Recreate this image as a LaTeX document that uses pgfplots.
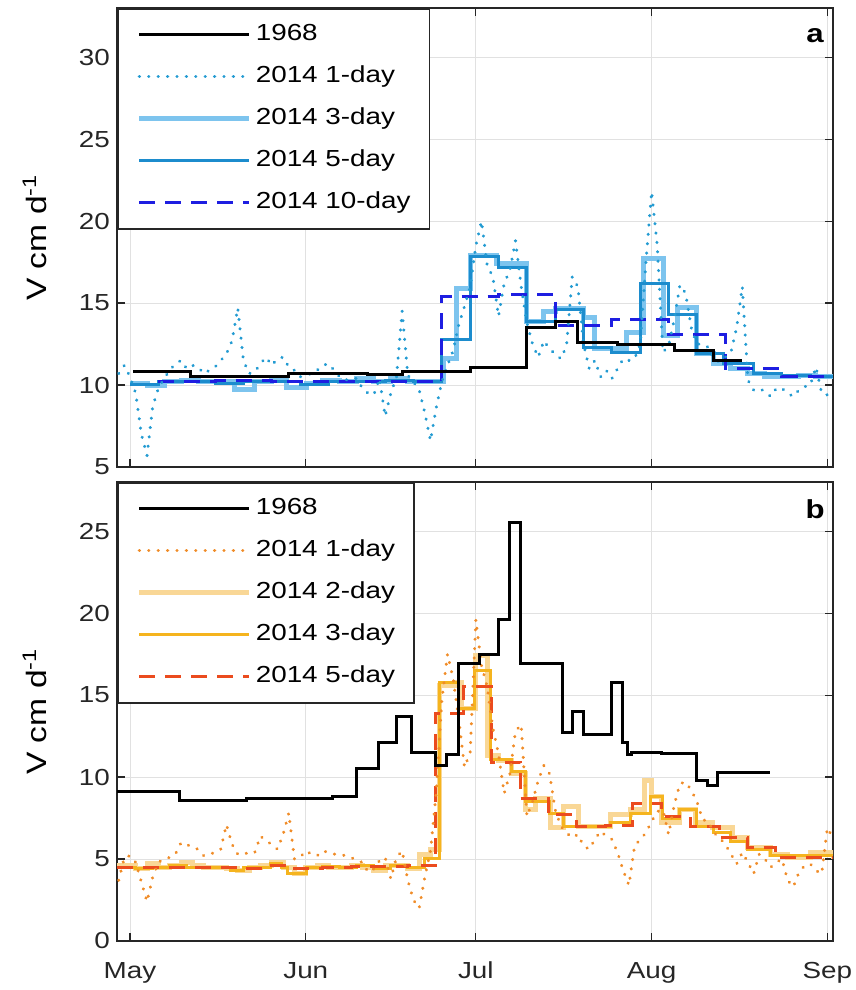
\documentclass[border=0pt]{standalone}
\usepackage{fontspec}
\setmainfont{Liberation Sans}[FakeStretch=1.2]
\usepackage{pgfplots}
\pgfplotsset{compat=1.18}
\definecolor{aone}{RGB}{35,155,210}
\definecolor{athree}{RGB}{125,196,238}
\definecolor{afive}{RGB}{28,140,205}
\definecolor{aten}{RGB}{30,30,225}
\definecolor{bone}{RGB}{240,140,40}
\definecolor{btwo}{RGB}{249,215,150}
\definecolor{bthree}{RGB}{245,180,30}
\definecolor{bfive}{RGB}{235,75,30}
\definecolor{gridc}{RGB}{225,225,225}
\definecolor{axc}{RGB}{38,38,38}
\pgfplotsset{
 mystyle/.style={
  width=358pt, height=229.5pt, scale only axis,
  xmin=-2.3, xmax=124,
  xtick={0,31,61,92,123},
  tick align=inside, tick pos=both,
  major tick length=4pt,
  grid=major, grid style={color=gridc, line width=0.5pt},
  axis line style={color=axc, line width=0.9pt},
  every tick/.style={color=axc, line width=0.6pt},
  tick label style={font=\fontsize{11.6}{13}\selectfont, color=black!85},
  xticklabel style={yshift=-7pt},
  /pgf/number format/assume math mode=true,
  ylabel={V cm d\textsuperscript{-1}},
  ylabel style={font=\fontsize{14}{16}\selectfont, at={(axis description cs:-0.115,0.5)}, anchor=center},
  legend cell align=left,
  legend style={at={(0,1)}, anchor=north west, draw=axc, line width=0.8pt, fill=white, inner sep=2.5pt,
    font=\fontsize{11.6}{13}\selectfont, row sep=0pt, column sep=0pt,
    nodes={text height=9pt, text depth=3pt, inner ysep=4.5pt, inner xsep=2pt}},
  legend image code/.code={\path (0pt,0pt); \draw[##1] (7pt,0pt) -- (62pt,0pt);},
  dotsty/.style={line width=1.6pt, line cap=round, line join=round, dash pattern=on 0.1pt off 4.6pt},
 }
}
\begin{document}
\begin{tikzpicture}
\useasboundingbox (0,0) rectangle (428pt,-495pt);
% ---------------- panel a
\begin{axis}[mystyle, at={(58.5pt,-4pt)}, anchor=north west,
  ymin=5, ymax=33, ytick={5,10,15,20,25,30}, xticklabels={}]
\addlegendimage{black, line width=1.5pt}
\addlegendentry{1968}
\addlegendimage{aone, line width=1.6pt, line cap=round, dash pattern=on 0.1pt off 4.6pt}
\addlegendentry{2014 1-day}
\addlegendimage{athree, line width=2.5pt}
\addlegendentry{2014 3-day}
\addlegendimage{afive, line width=1.5pt}
\addlegendentry{2014 5-day}
\addlegendimage{aten, line width=1.5pt, dash pattern=on 8pt off 5pt}
\addlegendentry{2014 10-day\hspace*{5pt}}
% 3-day
\addplot[forget plot, const plot, athree, line width=2.5pt] coordinates {
(0,10.1)(3,10.0)(6,10.2)(9,10.3)(12,10.2)(15,10.2)(18.5,9.75)(22,10.2)(25,10.3)(27.6,9.85)(31.2,10.1)(34,10.3)(37,10.2)(40,10.4)(43,10.2)(46,10.4)(49,10.2)(52,10.2)(55.3,11.6)(57.6,15.9)(60,17.9)(64.6,17.4)(70,13.9)(73,14.5)(75,14.65)(80,14.1)(82,12.2)(87.6,13.2)(90.6,17.7)(94.1,13.0)(96.5,14.75)(100,11.9)(103,11.3)(106,11.0)(109,10.7)(112,10.5)(115,10.55)(118,10.6)(121,10.5)(124,10.5)};
% 5-day
\addplot[forget plot, const plot, afive, line width=1.5pt] coordinates {
(0,10.05)(5,10.2)(10,10.2)(15,10.1)(20,10.2)(25,10.2)(30,10.05)(35,10.2)(40,10.2)(45,10.3)(50,10.2)(55,12.8)(60,17.85)(65,17.2)(70,13.9)(75,14.6)(80,12.3)(85,12.0)(90,16.2)(95,14.3)(100,11.9)(104.6,11.3)(110,10.7)(115,10.6)(120,10.55)(124,10.55)};
% 10-day
\addplot[forget plot, const plot, aten, line width=1.5pt, dash pattern=on 8pt off 5pt] coordinates {
(5,10.2)(15,10.25)(25,10.2)(35,10.2)(45,10.2)(55,15.4)(65,15.55)(75,13.65)(85,14.0)(95,13.1)(105,11.0)(115,10.55)(124,10.55)};
% 1-day
\addplot[forget plot, aone, dotsty] coordinates {
(-2,10.7)(-1,11.2)(0,10.5)(1,9.5)(2,7.0)(3,5.7)(4,8.7)(5,9.8)(6,10.4)(7,10.9)(8,11.3)(9,11.5)(10,11.0)(11,11.2)(12,11.1)(13,10.7)(14,10.9)(15,11.1)(16,11.5)(17,11.9)(18,12.7)(19,14.7)(20,11.5)(21,10.7)(22,10.8)(23,11.3)(24,11.7)(25,11.2)(26,11.6)(27,11.7)(28,11.1)(29,10.9)(30,10.5)(31,10.6)(32,10.7)(33,10.9)(34,11.2)(35,11.3)(36,10.9)(37,10.5)(38,10.3)(39,10.4)(40,10.4)(41,9.8)(42,9.5)(43,9.4)(44,10.4)(45,8.1)(46,9.5)(47,10.5)(48,14.5)(49,10.6)(50,10.2)(51,9.7)(52,8.3)(53,6.6)(54,8.6)(55,10.2)(56,11.2)(57,12.1)(58,13.7)(59,14.8)(60,16.0)(61,18.5)(62,20.0)(63,17.3)(64,16.6)(65,14.2)(66,16.2)(67,17.0)(68,18.8)(69,16.0)(70,13.8)(71,12.5)(72,11.7)(73,12.7)(74,12.2)(75,11.9)(76,11.6)(77,12.4)(78,16.6)(79,16.0)(80,12.5)(81,11.0)(82,11.5)(83,10.5)(84,10.9)(85,10.4)(86,11.0)(87,11.6)(88,11.5)(89,11.6)(90,12.5)(91,17.5)(92,21.8)(93,18.5)(94,12.0)(95,12.4)(96,14.0)(97,16.1)(98,15.6)(99,13.5)(100,12.5)(101,12.5)(102,12.3)(103,11.6)(104,11.4)(105,11.7)(106,12.0)(107,13.5)(108,16.0)(109,10.3)(110,9.7)(111,9.8)(112,9.6)(113,9.3)(114,9.8)(115,9.8)(116,9.5)(117,9.3)(118,9.7)(119,9.9)(120,10.0)(121,11.1)(122,9.5)(123,9.4)(124,9.6)};
% 1968
\addplot[forget plot, const plot, black, line width=1.5pt] coordinates {
(0.5,10.8)(10.6,10.5)(27.9,10.73)(41.8,10.65)(48,10.85)(60,11.05)(70,13.5)(75,13.9)(79,12.6)(86,12.5)(96,12.1)(103,11.5)(108,11.5)};
\node[font=\bfseries\fontsize{13}{15}\selectfont] at (rel axis cs:0.975,0.94) {a};
\end{axis}
% ---------------- panel b
\begin{axis}[mystyle, at={(58.5pt,-241pt)}, anchor=north west,
  ymin=0, ymax=28, ytick={0,5,10,15,20,25}, xticklabels={May,Jun,Jul,Aug,Sep}]
\addlegendimage{black, line width=1.5pt}
\addlegendentry{1968}
\addlegendimage{bone, line width=1.6pt, line cap=round, dash pattern=on 0.1pt off 4.6pt}
\addlegendentry{2014 1-day\hspace*{5pt}}
\addlegendimage{btwo, line width=2.5pt}
\addlegendentry{2014 2-day}
\addlegendimage{bthree, line width=1.5pt}
\addlegendentry{2014 3-day}
\addlegendimage{bfive, line width=1.5pt, dash pattern=on 8pt off 5pt}
\addlegendentry{2014 5-day}
% 2-day
\addplot[forget plot, const plot, btwo, line width=2.5pt] coordinates {
(-2.3,4.6)(1,4.4)(3,4.7)(5,4.5)(7,4.6)(9,4.8)(11,4.6)(13,4.5)(15,4.5)(17,4.4)(19,4.3)(21,4.5)(23,4.6)(25,4.8)(27,4.5)(29,4.1)(31,4.5)(33,4.6)(35,4.5)(37,4.5)(39,4.6)(41,4.5)(43,4.3)(45,4.6)(47,4.6)(49,4.4)(51,5.3)(53,5.6)(54.5,15.6)(57.2,15.8)(58.5,14.2)(60.9,17.4)(63,11.3)(65,11.0)(67.2,10.2)(69.8,8.0)(71.5,8.7)(74.1,6.9)(76.5,8.2)(79.1,7.0)(84.7,7.7)(88.2,8.0)(90.8,9.8)(92,8.8)(93.8,7.2)(97,8.0)(99.8,7.2)(102.7,6.9)(106.2,6.3)(109,5.7)(112.9,5.3)(116,5.1)(120,5.4)(124,5.0)};
% 3-day
\addplot[forget plot, const plot, bthree, line width=1.5pt] coordinates {
(-2.3,4.5)(1,4.4)(4,4.5)(7,4.6)(10,4.5)(13,4.5)(16,4.5)(17.8,4.3)(20,4.5)(24.7,4.75)(26.8,4.5)(27.7,4.1)(31.2,4.5)(34,4.55)(37,4.5)(40,4.6)(43,4.4)(46,4.6)(49,4.5)(52,5.05)(54.5,15.8)(57.9,14.2)(60.8,16.5)(63.6,11.1)(67.2,10.35)(69.8,8.5)(74,7.8)(76.5,7.0)(84.7,7.2)(88.2,7.8)(91.8,8.8)(94,7.5)(97,8.0)(100,7.0)(103,6.6)(106,6.1)(109,5.6)(113,5.2)(124,5.2)};
% 5-day
\addplot[forget plot, const plot, bfive, line width=1.5pt, dash pattern=on 8pt off 5pt] coordinates {
(-2.3,4.5)(4,4.5)(9,4.5)(14,4.5)(19,4.45)(24,4.6)(29,4.45)(34,4.5)(39,4.55)(44,4.55)(49,4.6)(53.8,13.9)(58.8,15.5)(63.8,10.9)(68.8,8.7)(73.8,7.7)(78.8,7.0)(83.8,7.05)(88.7,8.4)(93.8,7.6)(98.8,7.0)(104,6.3)(109,5.7)(113.8,5.1)(118.8,5.1)(124,5.1)};
% 1-day
\addplot[forget plot, bone, dotsty] coordinates {
(-2,3.7)(-1,5.1)(0,5.2)(1,4.8)(2,3.6)(3,2.4)(4,3.9)(5,4.8)(6,5.0)(7,5.1)(8,5.3)(9,6.0)(10,5.9)(11,5.7)(12,5.6)(13,5.2)(14,5.3)(15,5.4)(16,5.6)(17,7.1)(18,5.9)(19,5.3)(20,5.4)(21,5.3)(22,5.4)(23,6.4)(24,6.1)(25,5.9)(26,5.6)(27,6.5)(28,7.8)(29,5.0)(30,5.1)(31,5.5)(32,5.3)(33,5.2)(34,5.5)(35,5.4)(36,5.3)(37,5.3)(38,5.2)(39,5.1)(40,4.9)(41,4.8)(42,4.2)(43,4.4)(44,4.9)(45,5.1)(46,3.8)(47,5.1)(48,5.5)(49,3.7)(50,2.5)(51,2.0)(52,3.9)(53,5.5)(54,9.0)(55,14.7)(56,17.5)(57,16.0)(58,13.5)(59,10.6)(60,11.5)(61,19.6)(62,16.8)(63,15.5)(64,13.0)(65,11.4)(66,9.0)(67,10.2)(68,12.8)(69,13.2)(70,7.6)(71,8.5)(72,9.8)(73,10.7)(74,10.2)(75,8.0)(76,7.0)(77,6.6)(78,6.3)(79,6.5)(80,5.8)(81,5.6)(82,6.2)(83,6.7)(84,6.4)(85,6.2)(86,5.4)(87,4.3)(88,3.4)(89,5.8)(90,6.2)(91,6.6)(92,7.3)(93,7.9)(94,8.0)(95,6.5)(96,8.3)(97,9.6)(98,9.7)(99,9.2)(100,8.5)(101,7.4)(102,7.3)(103,6.6)(104,6.3)(105,5.9)(106,5.3)(107,4.7)(108,5.4)(109,4.8)(110,4.1)(111,5.3)(112,5.0)(113,4.5)(114,4.8)(115,5.0)(116,3.7)(117,3.3)(118,4.2)(119,4.6)(120,4.7)(121,4.3)(122,4.1)(123,6.9)(124,6.3)};
% 1968
\addplot[forget plot, const plot, black, line width=1.5pt] coordinates {
(-2.3,9.1)(8.8,8.6)(20.6,8.7)(35.8,8.8)(40,10.55)(43.8,12.1)(47,13.7)(49.7,11.5)(53.8,10.7)(55.9,11.35)(57.9,16.9)(61.7,17.5)(65,19.6)(67,25.55)(68.8,16.9)(76.2,12.7)(78,14.0)(80,12.6)(85,15.8)(86.9,12.1)(87.8,11.35)(88.5,11.5)(93.8,11.45)(100,9.8)(101.8,9.5)(103.7,10.3)(112.9,10.3)};
\node[font=\bfseries\fontsize{13}{15}\selectfont] at (rel axis cs:0.975,0.94) {b};
\end{axis}
\end{tikzpicture}
\end{document}
